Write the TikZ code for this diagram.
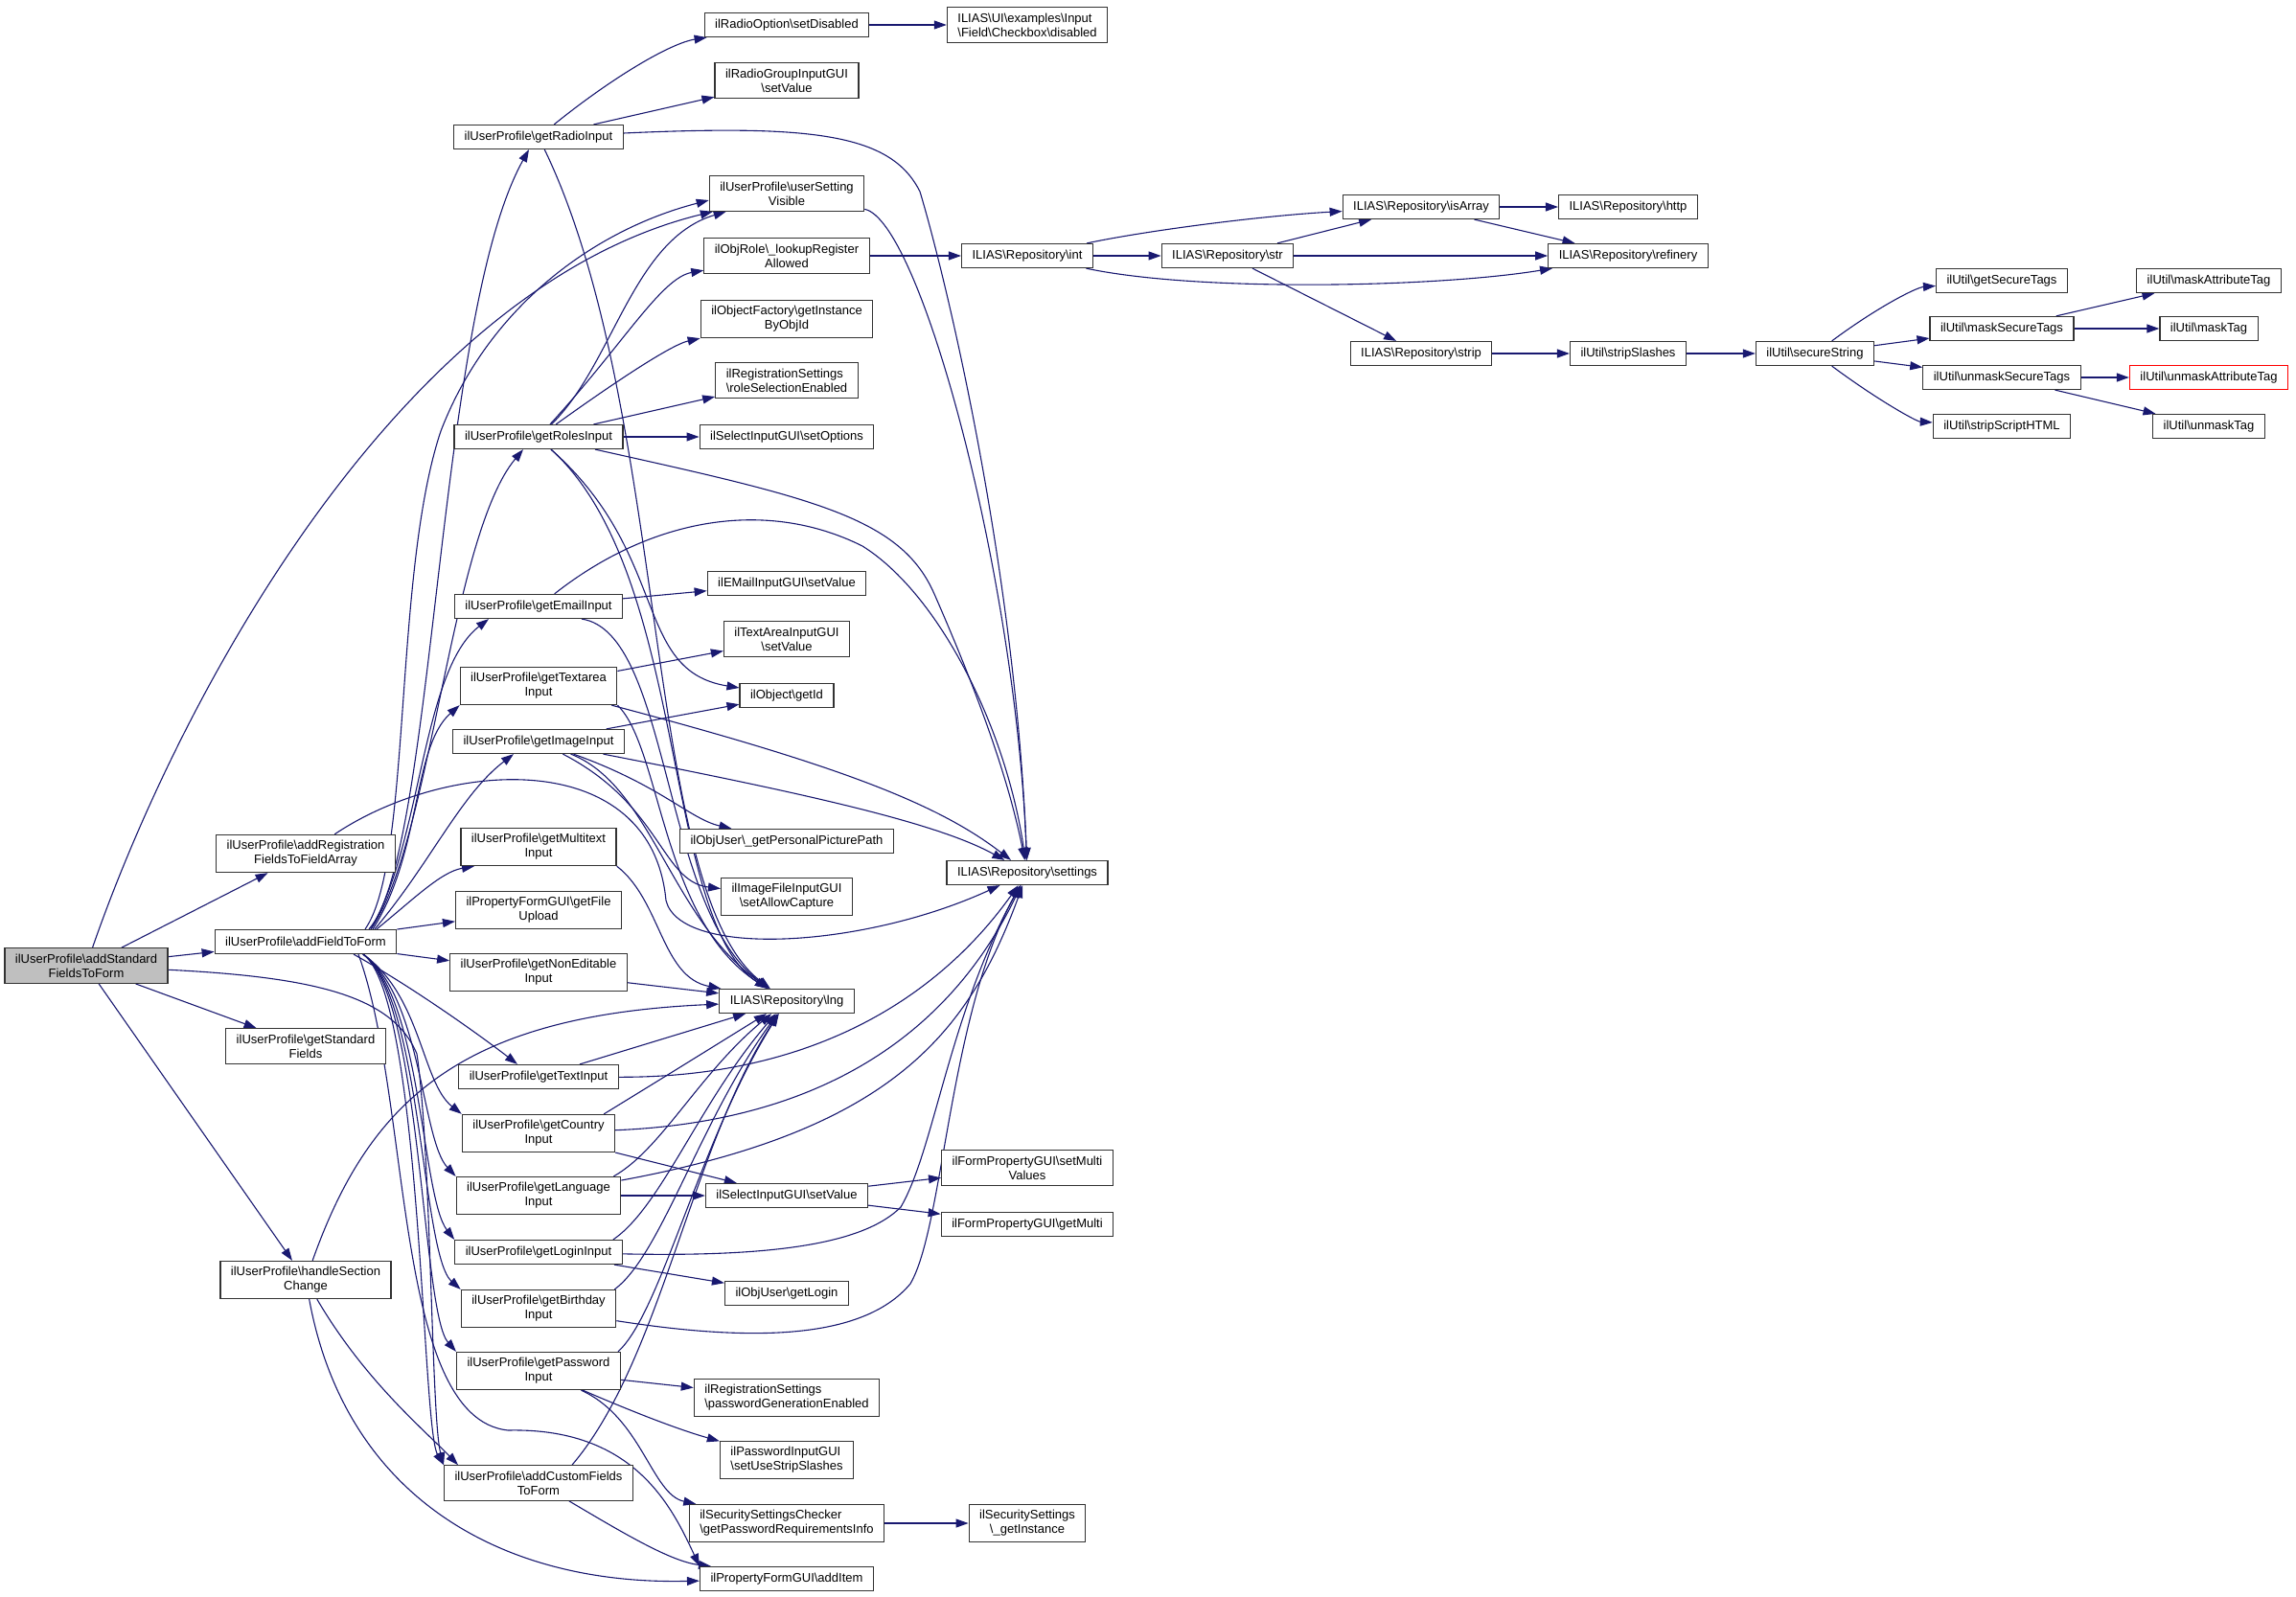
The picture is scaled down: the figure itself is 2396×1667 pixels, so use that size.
\documentclass[tikz,border=0pt]{standalone}
\usepackage{fontspec}
\setmainfont{Liberation Sans}
\usetikzlibrary{arrows.meta}
\usetikzlibrary{backgrounds}

\definecolor{edgeblue}{HTML}{191970}
\newcommand{\bk}{\textbackslash}

\tikzset{
  fn/.style={draw=black!80, line width=1.2pt, fill=white, font=\fontsize{13}{15}\selectfont,
    inner xsep=11pt, inner ysep=6pt, minimum height=25pt, align=center},
  fnl/.style={fn, align=left},
  rootfn/.style={fn, fill=black!25},
  missfn/.style={fn, draw=red},
  call/.style={draw=edgeblue, line width=1.1pt, -{Triangle[length=13pt,width=9pt]}},
}

\begin{document}
\begin{tikzpicture}[x=1pt, y=-1pt]
	\useasboundingbox (0,0) rectangle (2396,1667);
	% callers
	\node[rootfn] (addStd) at (90,1008) {ilUserProfile\bk addStandard\\FieldsToForm};
	\node[fn] (addReg) at (319,891) {ilUserProfile\bk addRegistration\\FieldsToFieldArray};
	\node[fn] (addField) at (319,983) {ilUserProfile\bk addFieldToForm};
	\node[fn] (getStd) at (319,1092) {ilUserProfile\bk getStandard\\Fields};
	\node[fn] (handleSec) at (319,1336) {ilUserProfile\bk handleSection\\Change};
	% input getters
	\node[fn] (getRadio) at (562,143) {ilUserProfile\bk getRadioInput};
	\node[fn] (getRoles) at (562,456) {ilUserProfile\bk getRolesInput};
	\node[fn] (getEmail) at (562,633) {ilUserProfile\bk getEmailInput};
	\node[fn] (getTextarea) at (562,716) {ilUserProfile\bk getTextarea\\Input};
	\node[fn] (getImage) at (562,774) {ilUserProfile\bk getImageInput};
	\node[fn] (getMultitext) at (562,884) {ilUserProfile\bk getMultitext\\Input};
	\node[fn] (getFile) at (562,950) {ilPropertyFormGUI\bk getFile\\Upload};
	\node[fn] (getNonEdit) at (562,1015) {ilUserProfile\bk getNonEditable\\Input};
	\node[fn] (getText) at (562,1124) {ilUserProfile\bk getTextInput};
	\node[fn] (getCountry) at (562,1183) {ilUserProfile\bk getCountry\\Input};
	\node[fn] (getLanguage) at (562,1248) {ilUserProfile\bk getLanguage\\Input};
	\node[fn] (getLogin) at (562,1307) {ilUserProfile\bk getLoginInput};
	\node[fn] (getBirthday) at (562,1366) {ilUserProfile\bk getBirthday\\Input};
	\node[fn] (getPassword) at (562,1431) {ilUserProfile\bk getPassword\\Input};
	\node[fn] (addCustom) at (562,1548) {ilUserProfile\bk addCustomFields\\ToForm};
	% third column
	\node[fn] (setDisabled) at (821,26) {ilRadioOption\bk setDisabled};
	\node[fn] (radioValue) at (821,84) {ilRadioGroupInputGUI\\\bk setValue};
	\node[fn] (userSetting) at (821,202) {ilUserProfile\bk userSetting\\Visible};
	\node[fn] (lookupReg) at (821,267) {ilObjRole\bk\_lookupRegister\\Allowed};
	\node[fn] (getInstance) at (821,333) {ilObjectFactory\bk getInstance\\ByObjId};
	\node[fnl] (roleSel) at (821,397) {ilRegistrationSettings\\\bk roleSelectionEnabled};
	\node[fn] (setOptions) at (821,456) {ilSelectInputGUI\bk setOptions};
	\node[fn] (emailValue) at (821,609) {ilEMailInputGUI\bk setValue};
	\node[fn] (textareaValue) at (821,667) {ilTextAreaInputGUI\\\bk setValue};
	\node[fn] (getId) at (821,726) {ilObject\bk getId};
	\node[fn] (picPath) at (821,878) {ilObjUser\bk\_getPersonalPicturePath};
	\node[fn] (allowCapture) at (821,936) {ilImageFileInputGUI\\\bk setAllowCapture};
	\node[fn] (lng) at (821,1045) {ILIAS\bk Repository\bk lng};
	\node[fn] (selectValue) at (821,1248) {ilSelectInputGUI\bk setValue};
	\node[fn] (objLogin) at (821,1350) {ilObjUser\bk getLogin};
	\node[fnl] (pwGen) at (821,1459) {ilRegistrationSettings\\\bk passwordGenerationEnabled};
	\node[fnl] (stripSl) at (821,1524) {ilPasswordInputGUI\\\bk setUseStripSlashes};
	\node[fnl] (pwReq) at (821,1590) {ilSecuritySettingsChecker\\\bk getPasswordRequirementsInfo};
	\node[fn] (addItem) at (821,1648) {ilPropertyFormGUI\bk addItem};
	% fourth column
	\node[fnl] (cbDisabled) at (1072,26) {ILIAS\bk UI\bk examples\bk Input\\\bk Field\bk Checkbox\bk disabled};
	\node[fn] (repoInt) at (1072,267) {ILIAS\bk Repository\bk int};
	\node[fn] (settings) at (1072,911) {ILIAS\bk Repository\bk settings};
	\node[fn] (setMulti) at (1072,1219) {ilFormPropertyGUI\bk setMulti\\Values};
	\node[fn] (getMulti) at (1072,1278) {ilFormPropertyGUI\bk getMulti};
	\node[fn] (secInst) at (1072,1590) {ilSecuritySettings\\\bk\_getInstance};
	% repository and util chain
	\node[fn] (repoStr) at (1281,267) {ILIAS\bk Repository\bk str};
	\node[fn] (isArray) at (1483,216) {ILIAS\bk Repository\bk isArray};
	\node[fn] (strip) at (1483,369) {ILIAS\bk Repository\bk strip};
	\node[fn] (http) at (1699,216) {ILIAS\bk Repository\bk http};
	\node[fn] (refinery) at (1699,267) {ILIAS\bk Repository\bk refinery};
	\node[fn] (stripSlashes) at (1699,369) {ilUtil\bk stripSlashes};
	\node[fn] (secureString) at (1894,369) {ilUtil\bk secureString};
	\node[fn] (getSecTags) at (2089,293) {ilUtil\bk getSecureTags};
	\node[fn] (maskSecTags) at (2089,343) {ilUtil\bk maskSecureTags};
	\node[fn] (unmaskSecTags) at (2089,394) {ilUtil\bk unmaskSecureTags};
	\node[fn] (stripScript) at (2089,445) {ilUtil\bk stripScriptHTML};
	\node[fn] (maskAttr) at (2305,293) {ilUtil\bk maskAttributeTag};
	\node[fn] (maskTag) at (2305,343) {ilUtil\bk maskTag};
	\node[missfn] (unmaskAttr) at (2305,394) {ilUtil\bk unmaskAttributeTag};
	\node[fn] (unmaskTag) at (2305,445) {ilUtil\bk unmaskTag};

	\begin{scope}[on background layer]
	% addStandardFieldsToForm
	\draw[call] (addStd) .. controls (190,720) and (420,300) .. (userSetting);
	\draw[call] (addStd) -- (addReg);
	\draw[call] (addStd) -- (addField);
	\draw[call] (addStd) -- (getStd);
	\draw[call] (addStd) -- (handleSec);
	\draw[call] (addStd) .. controls (330,1020) and (410,1040) .. (435,1100) .. controls (450,1200) and (450,1480) .. (addCustom.north west);
	\draw[call] (addReg) .. controls (470,790) and (680,780) .. (695,940) .. controls (710,1000) and (900,990) .. (settings);

	% addFieldToForm, upwards
	\draw[call] ([xshift=66pt]addField.north) .. controls (455,890) and (455,330) .. ([xshift=-10pt]getRadio.south);
	\draw[call] ([xshift=62pt]addField.north) .. controls (430,900) and (410,600) .. (460,450) .. controls (510,320) and (620,240) .. ([yshift=-7pt]userSetting.west);
	\draw[call] ([xshift=68pt]addField.north) .. controls (450,880) and (470,560) .. ([xshift=-16pt]getRoles.south);
	\draw[call] ([xshift=68pt]addField.north) .. controls (440,880) and (440,700) .. ([xshift=-52pt]getEmail.south);
	\draw[call] ([xshift=70pt]addField.north) .. controls (440,890) and (430,780) .. (getTextarea.south west);
	\draw[call] ([xshift=72pt]addField.north) .. controls (450,900) and (480,830) .. ([xshift=-26pt]getImage.south);
	\draw[call] ([xshift=74pt]addField.north) .. controls (430,940) and (460,910) .. ([xshift=-67pt]getMultitext.south);
	\draw[call] (addField) -- (getFile);
	\draw[call] (addField) -- (getNonEdit);
	% addFieldToForm, downwards
	\draw[call] ([xshift=50pt]addField.south) .. controls (430,1030) and (500,1080) .. ([xshift=-22pt]getText.north);
	\draw[call] ([xshift=60pt]addField.south) .. controls (440,1040) and (440,1130) .. (getCountry.north west);
	\draw[call] ([xshift=60pt]addField.south) .. controls (440,1040) and (440,1190) .. (getLanguage.north west);
	\draw[call] ([xshift=60pt]addField.south) .. controls (440,1040) and (440,1250) .. (getLogin.north west);
	\draw[call] ([xshift=60pt]addField.south) .. controls (440,1040) and (440,1310) .. (getBirthday.north west);
	\draw[call] ([xshift=60pt]addField.south) .. controls (440,1040) and (440,1370) .. (getPassword.north west);
	\draw[call] ([xshift=60pt]addField.south) .. controls (440,1040) and (440,1490) .. (addCustom.north west);
	\draw[call] ([xshift=55pt]addField.south) .. controls (430,1150) and (410,1480) .. (530,1493) .. controls (660,1490) and (700,1570) .. (addItem.north west);

	% getRadioInput
	\draw[call] (getRadio) .. controls (640,80) and (700,45) .. (setDisabled);
	\draw[call] (getRadio) -- (radioValue);
	\draw[call] (getRadio) .. controls (850,130) and (930,140) .. (960,200) .. controls (990,300) and (1060,600) .. (settings);
	\draw[call] (getRadio) .. controls (700,430) and (670,930) .. (lng);
	% getRolesInput
	\draw[call] (getRoles) .. controls (640,380) and (660,250) .. (userSetting);
	\draw[call] (getRoles) .. controls (650,360) and (690,290) .. (lookupReg);
	\draw[call] (getRoles) .. controls (640,400) and (700,360) .. (getInstance);
	\draw[call] (getRoles) -- (roleSel);
	\draw[call] (getRoles) -- (setOptions);
	\draw[call] (getRoles) .. controls (850,520) and (940,540) .. (975,620) .. controls (1010,700) and (1050,800) .. (settings);
	\draw[call] ([xshift=13pt]getRoles.south) .. controls (720,600) and (690,960) .. (lng);
	\draw[call] ([xshift=13pt]getRoles.south) .. controls (700,580) and (660,700) .. (getId);
	% getEmailInput, getTextareaInput, getImageInput
	\draw[call] (getEmail) -- (emailValue);
	\draw[call] (getEmail) .. controls (680,540) and (800,520) .. (900,570) .. controls (980,620) and (1050,760) .. (settings);
	\draw[call] ([xshift=45pt]getEmail.south) .. controls (700,660) and (690,950) .. (lng);
	\draw[call] (getTextarea) -- (textareaValue);
	\draw[call] (getTextarea) .. controls (880,800) and (980,840) .. (settings);
	\draw[call] (getTextarea.south east) .. controls (690,780) and (690,960) .. (lng);
	\draw[call] (getImage) -- (getId);
	\draw[call] (getImage) .. controls (850,830) and (980,860) .. (settings);
	\draw[call] (getImage) .. controls (690,820) and (720,855) .. (picPath);
	\draw[call] (getImage) .. controls (690,840) and (690,920) .. (allowCapture);
	\draw[call] (getImage) .. controls (680,820) and (700,960) .. (lng);
	% into lng from below
	\draw[call] (getMultitext.south east) .. controls (690,940) and (690,1020) .. (lng);
	\draw[call] (getNonEdit) -- (lng);
	\draw[call] (getText) -- (lng);
	\draw[call] ([xshift=-12pt]getCountry.north east) .. controls (700,1120) .. (lng);
	\draw[call] ([xshift=-8pt]getLanguage.north east) .. controls (690,1200) and (730,1120) .. (lng);
	\draw[call] ([xshift=-10pt]getLogin.north east) .. controls (690,1260) and (730,1150) .. (lng);
	\draw[call] ([xshift=-2pt]getBirthday.north east) .. controls (690,1310) and (730,1170) .. (lng);
	\draw[call] ([xshift=-3pt]getPassword.north east) .. controls (690,1370) and (730,1190) .. (lng);
	\draw[call] ([xshift=35pt]addCustom.north) .. controls (690,1420) and (720,1200) .. (lng);
	\draw[call] (handleSec) .. controls (385,1150) and (480,1060) .. (lng);
	% into settings from below
	\draw[call] (getText) .. controls (850,1125) and (980,1040) .. (settings);
	\draw[call] (getCountry) .. controls (880,1170) and (1000,1060) .. (settings);
	\draw[call] (getLanguage) .. controls (930,1180) and (1010,1080) .. (settings);
	\draw[call] (getLogin) .. controls (800,1312) and (900,1300) .. (940,1260) .. controls (975,1200) and (990,1060) .. (settings);
	\draw[call] (getBirthday) .. controls (780,1400) and (900,1400) .. (950,1340) .. controls (985,1280) and (990,1060) .. (settings);
	% lower getters
	\draw[call] (getCountry) -- (selectValue);
	\draw[call] (getLanguage) -- (selectValue);
	\draw[call] (getLogin) -- (objLogin);
	\draw[call] (getPassword) -- (pwGen);
	\draw[call] (getPassword) .. controls (640,1465) and (700,1490) .. (stripSl);
	\draw[call] (getPassword) .. controls (670,1480) and (680,1560) .. (pwReq);
	\draw[call] (addCustom) .. controls (650,1600) and (700,1630) .. ([xshift=12pt]addItem.north west);
	\draw[call] (handleSec) .. controls (380,1440) and (440,1490) .. ([xshift=15pt]addCustom.north west);
	\draw[call] (handleSec) .. controls (360,1560) and (520,1655) .. (addItem);

	% right part
	\draw[call] (setDisabled) -- (cbDisabled);
	\draw[call] (userSetting) .. controls (960,230) and (1060,600) .. (settings);
	\draw[call] (lookupReg) -- (repoInt);
	\draw[call] (selectValue) -- (setMulti);
	\draw[call] (selectValue) -- (getMulti);
	\draw[call] (pwReq) -- (secInst);
	\draw[call] (repoInt) -- (repoStr);
	\draw[call] (repoInt) .. controls (1200,240) and (1320,225) .. (isArray);
	\draw[call] (repoInt) .. controls (1250,305) and (1500,300) .. (refinery);
	\draw[call] (repoStr) -- (isArray);
	\draw[call] (repoStr) -- (refinery);
	\draw[call] (repoStr) -- (strip);
	\draw[call] (isArray) -- (http);
	\draw[call] (isArray) -- (refinery);
	\draw[call] (strip) -- (stripSlashes);
	\draw[call] (stripSlashes) -- (secureString);
	\draw[call] (secureString) .. controls (1960,320) and (2000,300) .. (getSecTags);
	\draw[call] (secureString) -- (maskSecTags);
	\draw[call] (secureString) -- (unmaskSecTags);
	\draw[call] (secureString) .. controls (1960,418) and (2000,440) .. (stripScript);
	\draw[call] (maskSecTags) -- (maskAttr);
	\draw[call] (maskSecTags) -- (maskTag);
	\draw[call] (unmaskSecTags) -- (unmaskAttr);
	\draw[call] (unmaskSecTags) -- (unmaskTag);
	\end{scope}
\end{tikzpicture}
\end{document}
